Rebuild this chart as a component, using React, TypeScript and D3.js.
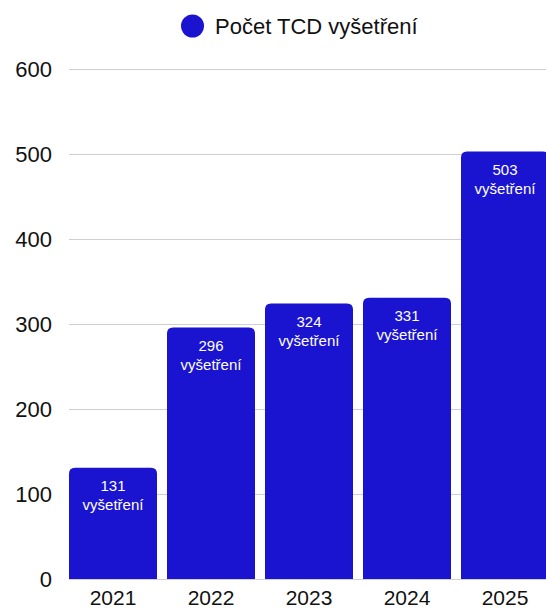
import React from "react";
import * as d3 from "d3";

const years = ["2021", "2022", "2023", "2024", "2025"];
const counts = [131, 296, 324, 331, 503];
const yTicks = [0, 100, 200, 300, 400, 500, 600];
const seriesName = "Počet TCD vyšetření";
const unitLabel = "vyšetření";

const W = 546;
const H = 609;
const COLOR = "#1a13d0";
const FONT = "'Liberation Sans', Arial, Helvetica, sans-serif";

function topRoundedRect(x: number, y: number, w: number, h: number, r: number) {
  const rr = Math.min(r, h, w / 2);
  return `M${x},${y + h}V${y + rr}Q${x},${y} ${x + rr},${y}H${x + w - rr}Q${x + w},${y} ${x + w},${y + rr}V${y + h}Z`;
}

export default function App() {
  const x = d3.scaleBand<string>().domain(years).range([69, 549]).paddingInner(10 / 98).paddingOuter(0);
  const y = d3.scaleLinear().domain([0, 600]).range([579, 69]);
  const bw = x.bandwidth();

  return (
    <svg width={W} height={H} style={{ position: "absolute", left: 0, top: 0 }} fontFamily={FONT}>
      <rect x={0} y={0} width={W} height={H} fill="#fff" />
      {/* legend */}
      <circle cx={192.5} cy={26} r={11.5} fill={COLOR} />
      <text x={215} y={26} dy="0.35em" fontSize={22} fill="#111">{seriesName}</text>
      {/* grid + y labels */}
      {yTicks.map((t) => (
        <g key={t}>
          <line x1={69} x2={W} y1={y(t) + 0.5} y2={y(t) + 0.5} stroke="#cfcfcf" strokeWidth={1} />
          <text x={52} y={y(t)} dy="0.36em" textAnchor="end" fontSize={22} fill="#111">{t}</text>
        </g>
      ))}
      {/* bars */}
      {years.map((yr, i) => {
        const bx = x(yr)!;
        const top = y(counts[i]);
        return (
          <g key={yr}>
            <path d={topRoundedRect(bx, top, bw, y(0) - top, 6)} fill={COLOR} />
            <text x={bx + bw / 2} y={top + 18} dy="0.35em" textAnchor="middle" fontSize={15} fill="#fff">{counts[i]}</text>
            <text x={bx + bw / 2} y={top + 37} dy="0.35em" textAnchor="middle" fontSize={15} fill="#fff">{unitLabel}</text>
            <text x={bx + bw / 2} y={604.5} textAnchor="middle" fontSize={21} fill="#111">{yr}</text>
          </g>
        );
      })}
    </svg>
  );
}
